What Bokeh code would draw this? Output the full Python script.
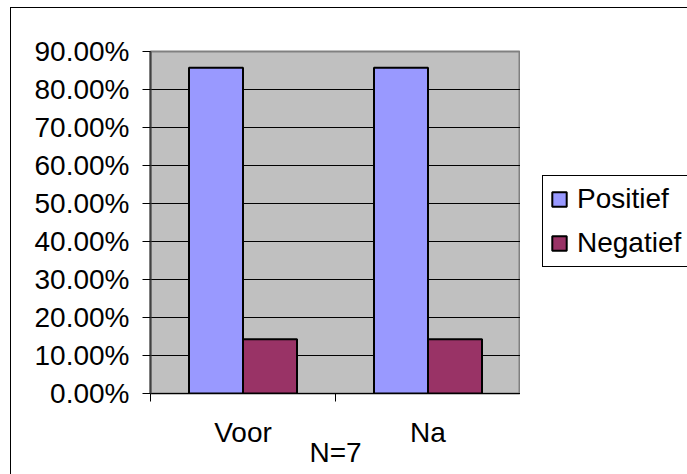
from bokeh.plotting import figure
from bokeh.layouts import row
from bokeh.models import (Range1d, FixedTicker, NumeralTickFormatter, Legend,
                          LegendItem, ColumnDataSource)
from bokeh.transform import dodge
from bokeh.embed import file_html
from bokeh.resources import INLINE

# ---- data ----
categories = ["Voor", "Na"]
series_names = ["Positief", "Negatief"]
positief = [0.8571, 0.8571]
negatief = [0.1429, 0.1429]
y_ticks = [0.0, 0.1, 0.2, 0.3, 0.4, 0.5, 0.6, 0.7, 0.8, 0.9]
x_title = "N=7"

FONT = "Liberation Sans"
FS = "28px"
colors = ["#9999FF", "#993366"]

centers = [i + 0.5 for i in range(len(categories))]
source = ColumnDataSource(dict(x=centers, cat=categories,
                               positief=positief, negatief=negatief))

p = figure(frame_width=370, frame_height=342,
           x_range=Range1d(0, len(categories)),
           y_range=Range1d(y_ticks[0], y_ticks[-1]),
           output_backend="svg", toolbar_location=None,
           min_border_left=139, min_border_top=43,
           min_border_right=0, min_border_bottom=81)

p.background_fill_color = "#C0C0C0"
p.border_fill_color = "white"
p.outline_line_color = "#808080"
p.outline_line_width = 2

bw = 0.292
bar_style = dict(line_color="black", line_width=2)
r1 = p.vbar(x=dodge("x", -bw / 2, range=p.x_range), top="positief", width=bw,
            source=source, fill_color=colors[0], **bar_style)
r2 = p.vbar(x=dodge("x", bw / 2, range=p.x_range), top="negatief", width=bw,
            source=source, fill_color=colors[1], **bar_style)

# y axis
p.yaxis.ticker = FixedTicker(ticks=y_ticks)
p.yaxis.formatter = NumeralTickFormatter(format="0.00%")
p.yaxis.major_tick_in = 0
p.yaxis.major_tick_out = 8
p.yaxis.minor_tick_line_color = None
p.yaxis.major_tick_line_color = "black"
p.yaxis.axis_line_color = "#404040"
p.yaxis.axis_line_width = 2
p.yaxis.major_label_standoff = 13
p.yaxis.major_label_text_font = FONT
p.yaxis.major_label_text_font_size = FS
p.yaxis.major_label_text_color = "black"

# x axis: labels at category centres, ticks at category boundaries
p.xaxis.ticker = FixedTicker(ticks=centers,
                             minor_ticks=list(range(len(categories) + 1)))
p.xaxis.major_label_overrides = {c: name for c, name in zip(centers, categories)}
p.xaxis.major_tick_line_color = None
p.xaxis.minor_tick_in = 0
p.xaxis.minor_tick_out = 8
p.xaxis.minor_tick_line_color = "black"
p.xaxis.axis_line_color = "black"
p.xaxis.major_label_standoff = 15
p.xaxis.major_label_text_font = FONT
p.xaxis.major_label_text_font_size = FS
p.xaxis.major_label_text_color = "black"
p.xaxis.axis_label = x_title
p.xaxis.axis_label_text_font = FONT
p.xaxis.axis_label_text_font_size = FS
p.xaxis.axis_label_text_font_style = "normal"
p.xaxis.axis_label_text_color = "black"
p.xaxis.axis_label_standoff = -14

# grid
p.xgrid.visible = False
p.ygrid.ticker = FixedTicker(ticks=y_ticks[1:-1])
p.ygrid.grid_line_color = "black"
p.ygrid.grid_line_width = 1

# legend panel (separate canvas so the legend is not clipped)
lg = figure(width=167, height=466, output_backend="svg", toolbar_location=None,
            x_range=p.x_range, y_range=p.y_range,
            x_axis_location=None, y_axis_location=None,
            min_border_left=0, min_border_right=0,
            min_border_top=43, min_border_bottom=81)
lg.outline_line_color = None
lg.background_fill_color = "white"
lg.border_fill_color = "white"
lg.grid.visible = False
g1 = lg.vbar(x="x", top="positief", width=bw, source=source,
             fill_color=colors[0], visible=False, **bar_style)
g2 = lg.vbar(x="x", top="negatief", width=bw, source=source,
             fill_color=colors[1], visible=False, **bar_style)

legend = Legend(items=[LegendItem(label=series_names[0], renderers=[g1]),
                       LegendItem(label=series_names[1], renderers=[g2])],
                location=(22, 126))
legend.label_text_font = FONT
legend.label_text_font_size = FS
legend.label_text_color = "black"
legend.glyph_width = 18
legend.glyph_height = 18
legend.label_standoff = 9
legend.padding = 7
legend.spacing = 12
legend.margin = 0
legend.inactive_fill_alpha = 0
legend.border_line_color = "black"
legend.border_line_alpha = 1
legend.border_line_width = 1
legend.background_fill_color = "white"
legend.background_fill_alpha = 1
lg.add_layout(legend)

layout = row(p, lg, margin=(7, 0, 0, 10),
             styles={"border-left": "1px solid black",
                     "border-top": "1px solid black"})

open("out.html", "w").write(file_html(layout, INLINE))
